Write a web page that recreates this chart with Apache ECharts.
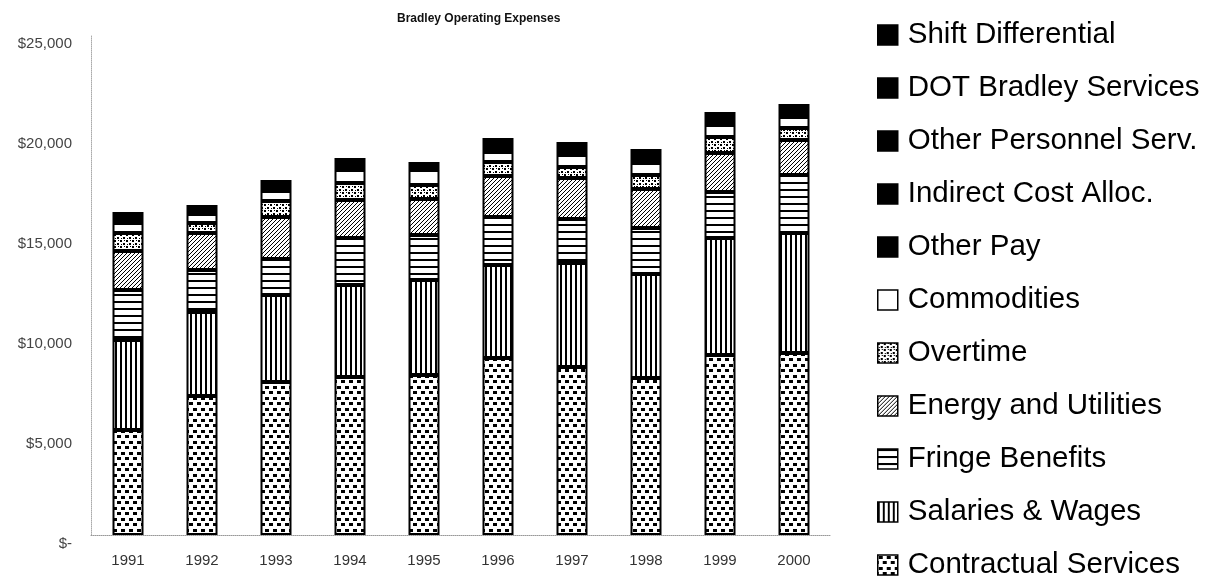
<!DOCTYPE html>
<html>
<head>
<meta charset="utf-8">
<script src="https://cdn.jsdelivr.net/npm/echarts@6/dist/echarts.min.js"></script>
<style>
  html, body { margin: 0; padding: 0; background: #fff; }
  #chart { width: 1207px; height: 579px; }
</style>
</head>
<body>
<div id="chart"></div>
<script>
// Bradley operating expenses, in thousands of dollars, by fiscal year
const years = ['1991', '1992', '1993', '1994', '1995', '1996', '1997', '1998', '1999', '2000'];

const contractualServices = [5250, 6950, 7650, 7900, 8000, 8850, 8400, 7850, 9000, 9100];
const salariesWages       = [4500, 4200, 4350, 4600, 4750, 4650, 5200, 5200, 5850, 6000];
const fringeBenefits      = [2500, 2100, 1800, 2350, 2250, 2400, 2200, 2300, 2300, 2900];
const energyUtilities     = [1950, 1850, 2100, 1900, 1800, 2050, 2050, 1950, 1950, 1750];
const overtime            = [900, 500, 800, 850, 700, 700, 550, 700, 800, 600];
const commodities         = [500, 450, 500, 650, 750, 500, 600, 600, 600, 550];
const otherPay            = [200, 150, 200, 250, 150, 250, 250, 250, 250, 250];
const indirectCostAlloc   = [150, 100, 150, 150, 100, 200, 150, 200, 150, 150];
const otherPersonnelServ  = [100, 100, 100, 100, 50, 150, 100, 150, 100, 100];
const dotBradleyServices  = [50, 50, 50, 50, 50, 50, 100, 50, 100, 100];
const shiftDifferential   = [50, 50, 50, 50, 50, 50, 50, 50, 50, 50];

const yTickLabels = ['$-', '$5,000', '$10,000', '$15,000', '$20,000', '$25,000'];

// Black-and-white fill patterns drawn on small tiles
function tile(w, h, draw) {
  const c = document.createElement('canvas');
  c.width = w; c.height = h;
  const g = c.getContext('2d');
  g.fillStyle = '#fff';
  g.fillRect(0, 0, w, h);
  g.fillStyle = '#000';
  draw(g);
  return { image: c, repeat: 'repeat' };
}
const checkerFill = tile(8, 11, g => { g.fillRect(1, 1, 4, 3); g.fillRect(5, 6, 3, 3); g.fillRect(0, 6, 1, 3); });
const verticalFill = tile(5, 4, g => { g.fillRect(0, 0, 2, 4); });
const horizontalFill = tile(4, 7, g => { g.fillRect(0, 0, 4, 2); });
const diagonalFill = tile(4, 4, g => {
  g.fillRect(3, 0, 1, 1); g.fillRect(2, 1, 1, 1); g.fillRect(1, 2, 1, 1); g.fillRect(0, 3, 1, 1);
});
const stippleFill = tile(6, 6, g => {
  g.fillRect(0, 0, 2, 2); g.fillRect(3, 3, 2, 2); g.fillRect(4, 0, 1, 1); g.fillRect(1, 4, 1, 1);
});

// [legend name, values, fill, outline width]
const layers = [
  ['Contractual Services', contractualServices, checkerFill, 2],
  ['Salaries & Wages', salariesWages, verticalFill, 2],
  ['Fringe Benefits', fringeBenefits, horizontalFill, 2],
  ['Energy and Utilities', energyUtilities, diagonalFill, 2],
  ['Overtime', overtime, stippleFill, 2],
  ['Commodities', commodities, '#ffffff', 2],
  ['Other Pay', otherPay, '#000000', 0],
  ['Indirect Cost Alloc.', indirectCostAlloc, '#000000', 0],
  ['Other Personnel Serv.', otherPersonnelServ, '#000000', 0],
  ['DOT Bradley Services', dotBradleyServices, '#000000', 0],
  ['Shift Differential', shiftDifferential, '#000000', 0]
];

const FONT = "'Liberation Sans', Arial, Helvetica, sans-serif";

const chart = echarts.init(document.getElementById('chart'), null, { renderer: 'canvas' });
chart.setOption({
  animation: false,
  backgroundColor: '#fff',
  title: {
    text: 'Bradley Operating Expenses',
    left: 392,
    top: 8,
    textStyle: { fontFamily: FONT, fontSize: 12, fontWeight: 'bold', color: '#111' }
  },
  legend: {
    orient: 'vertical',
    left: 872,
    top: 15,
    height: 570,
    icon: 'rect',
    itemWidth: 20,
    itemHeight: 20,
    itemGap: 23,
    data: layers.map(l => l[0]).reverse(),
    itemStyle: { borderColor: '#000', borderWidth: 1.5 },
    textStyle: { fontFamily: FONT, fontSize: 29.5, lineHeight: 28, color: '#000', padding: [0, 0, 0, 5] }
  },
  grid: { left: 91, right: 376, top: 35, bottom: 44 },
  xAxis: {
    type: 'category',
    data: years,
    axisLine: { lineStyle: { color: '#999', type: 'dotted', width: 1 } },
    axisTick: { show: false },
    axisLabel: { fontFamily: FONT, fontSize: 15, color: '#333', margin: 18 }
  },
  yAxis: {
    type: 'value',
    min: 0,
    max: 25000,
    interval: 5000,
    splitLine: { show: false },
    axisLine: { show: true, lineStyle: { color: '#aaa', type: 'dotted', width: 1 } },
    axisTick: { show: false },
    axisLabel: {
      fontFamily: FONT, fontSize: 15, color: '#444', margin: 19,
      verticalAlign: 'top', lineHeight: 18,
      formatter: v => yTickLabels[Math.round(v / 5000)]
    }
  },
  series: layers.map(([name, data, fill, bw]) => ({
    name,
    type: 'bar',
    stack: 'total',
    barWidth: 31,
    data,
    itemStyle: { color: fill, borderColor: '#000', borderWidth: bw }
  }))
});
</script>
</body>
</html>
